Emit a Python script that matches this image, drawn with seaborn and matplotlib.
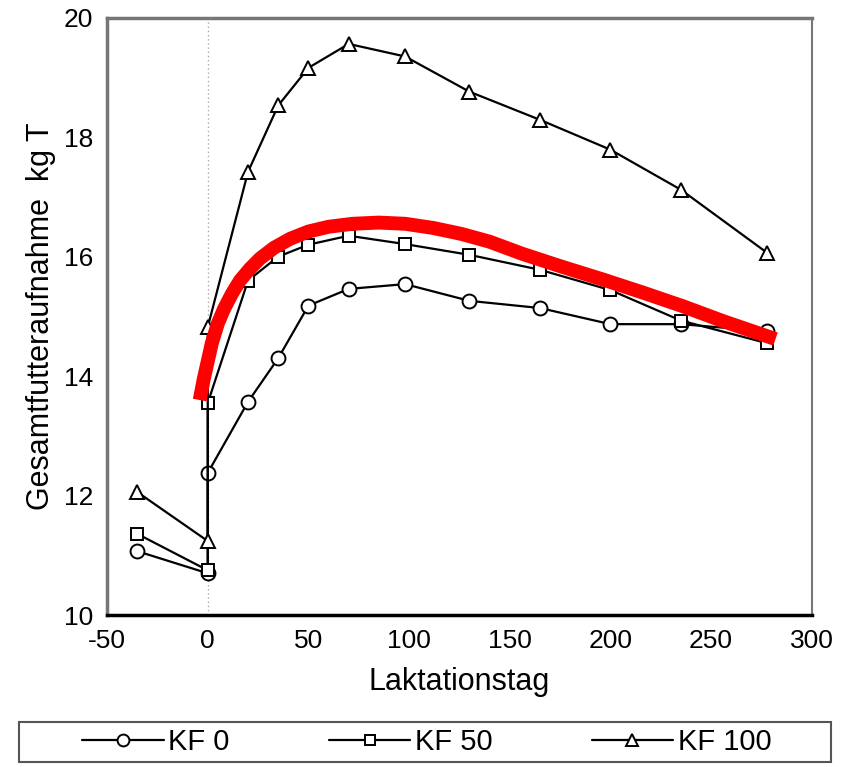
import numpy as np
import pandas as pd
import matplotlib
matplotlib.use("Agg")
import matplotlib.pyplot as plt
from matplotlib.patches import Rectangle
import seaborn as sns

# ---- data ----
days = [-35, 0, 0, 20, 35, 50, 70, 98, 130, 165, 200, 235, 278]
kf0 = [11.07, 10.7, 12.38, 13.57, 14.3, 15.18, 15.46, 15.54, 15.26, 15.14, 14.87, 14.87, 14.75]
kf50 = [11.36, 10.75, 13.55, 15.6, 16.0, 16.2, 16.35, 16.21, 16.03, 15.78, 15.44, 14.93, 14.55]
kf100 = [12.06, 11.24, 14.82, 17.42, 18.53, 19.16, 19.56, 19.35, 18.76, 18.29, 17.79, 17.12, 16.06]
series_names = ["KF 0", "KF 50", "KF 100"]
series_markers = ["o", "s", "^"]

red_x = [-4, -2, 0, 2, 5, 8, 12, 16, 21, 26, 33, 41, 50, 60, 72, 85, 98, 112,
         126, 140, 156, 176, 196, 216, 236, 256, 282]
red_y = [13.6, 13.95, 14.25, 14.55, 14.88, 15.12, 15.38, 15.6, 15.8, 15.97, 16.15,
         16.3, 16.42, 16.5, 16.55, 16.57, 16.55, 16.48, 16.38, 16.25, 16.05, 15.83,
         15.62, 15.4, 15.17, 14.92, 14.62]

x_ticks = [-50, 0, 50, 100, 150, 200, 250, 300]
y_ticks = [10, 12, 14, 16, 18, 20]

sns.set_style("white")
plt.rcParams['font.family'] = ['Liberation Sans', 'DejaVu Sans']
plt.rcParams['axes.unicode_minus'] = False
plt.rcParams['text.color'] = 'black'
plt.rcParams['axes.labelcolor'] = 'black'

fig = plt.figure(figsize=(8.5, 7.67), dpi=100)
ax = fig.add_axes([0.126, 0.198, 0.829, 0.779])

ax.axvline(0, color="#aaaaaa", lw=1, ls=(0, (1, 2)), zorder=0)

for name, vals, mk in zip(series_names, [kf0, kf50, kf100], series_markers):
    df = pd.DataFrame({"x": days, "y": vals})
    sns.lineplot(data=df, x="x", y="y", sort=False, estimator=None, ax=ax,
                 color="black", lw=1.6, marker=mk, markersize=10 if mk != "s" else 9,
                 markerfacecolor="white", markeredgecolor="black", markeredgewidth=1.4,
                 label=name, zorder=3)

sns.lineplot(x=red_x, y=red_y, sort=False, estimator=None, ax=ax, color="#ff0000",
             lw=10, zorder=5, legend=False, solid_capstyle="butt", solid_joinstyle="round")

ax.set_xlim(-50, 300)
ax.set_ylim(10, 20)
ax.set_xticks(x_ticks)
ax.set_yticks(y_ticks)
ax.tick_params(axis="both", labelsize=19, direction="inout", length=8, width=1,
               colors="black", pad=6)
ax.set_xlabel("Laktationstag", fontsize=22, labelpad=10)
ax.set_ylabel("Gesamtfutteraufnahme  kg T", fontsize=22, labelpad=6)

for s in ["left", "top"]:
    ax.spines[s].set_color("#777777")
    ax.spines[s].set_linewidth(2.5)
ax.spines["right"].set_color("#777777")
ax.spines["right"].set_linewidth(1.5)
ax.spines["bottom"].set_color("black")
ax.spines["bottom"].set_linewidth(2.5)

h, l = ax.get_legend_handles_labels()
ax.get_legend().remove()
leg = fig.legend(h, l, loc="center", bbox_to_anchor=(0.502, 25 / 767),
                 ncol=3, frameon=False, fontsize=21,
                 handlelength=2.8, handletextpad=0.15, columnspacing=3.4,
                 borderaxespad=0, markerscale=0.85)
fig.patches.append(Rectangle((19 / 850, 5 / 767), (831 - 19) / 850, 40 / 767,
                             transform=fig.transFigure, fill=False,
                             edgecolor="#555555", lw=1.5))

fig.savefig("out.png", dpi=100)
